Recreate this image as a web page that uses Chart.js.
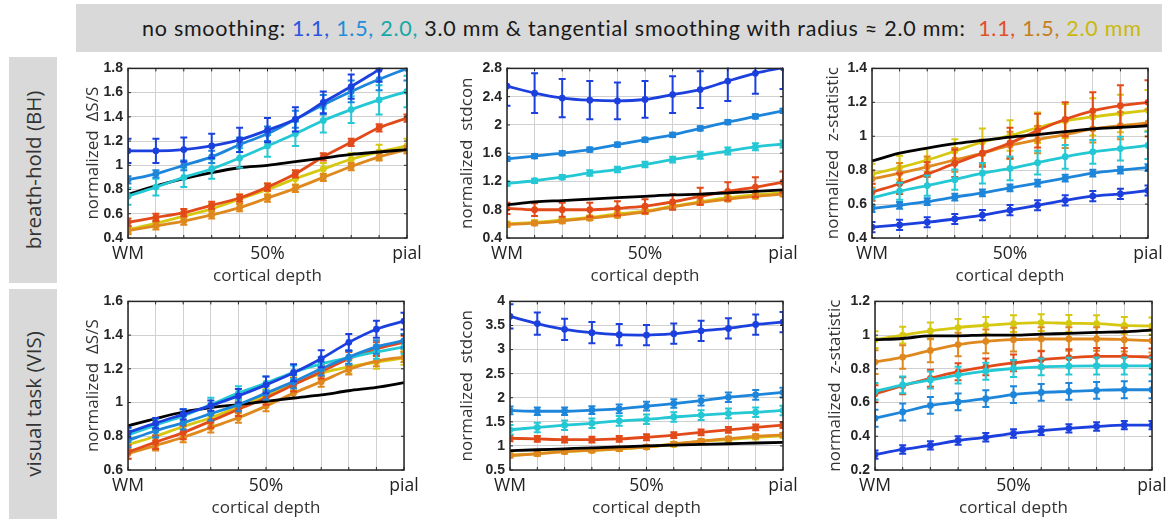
<!DOCTYPE html>
<html><head><meta charset="utf-8">
<script src="https://cdn.jsdelivr.net/npm/chart.js@4/dist/chart.umd.min.js"></script>
<style>
html,body{margin:0;padding:0;background:#fff}
body{width:1173px;height:519px;overflow:hidden;position:relative;font-family:'Open Sans',sans-serif}
#banner{position:absolute;left:76px;top:4px;width:1086px;height:48px;background:#d9d9d9}
#banner .t{position:absolute;left:66px;top:0;line-height:48px;font-family:Lato,sans-serif;font-size:21.5px;color:#1a1a1a;white-space:nowrap}
.rowlab{position:absolute;left:9px;width:48px;background:#d9d9d9}
.rowlab div{position:absolute;left:50%;top:50%;transform:translate(-50%,-50%) rotate(-90deg);white-space:nowrap;font-size:20.5px;color:#333;font-family:'Open Sans',sans-serif}
.panel{position:absolute}
</style>
</head><body>
<div id="banner"><span class="t" id="bt">no smoothing: <span style="color:#2a55e0">1.1,</span> <span style="color:#1f8ed8">1.5,</span> <span style="color:#17a7a8">2.0,</span> 3.0 mm &amp; tangential smoothing with radius ≈ 2.0 mm:&nbsp; <span style="color:#e2502a">1.1,</span> <span style="color:#c47f22">1.5,</span> <span style="color:#c9b80c">2.0 mm</span></span></div>
<div class="rowlab" style="top:57px;height:226px"><div>breath-hold (BH)</div></div>
<div class="rowlab" style="top:289px;height:230px"><div>visual task (VIS)</div></div>
<script>
// ---- categories / ticks ----
const DEPTH = [0,1,2,3,4,5,6,7,8,9,10];
const X_TICK_POS = [0,5,10];
const X_TICK_TEXT = ['WM','50%','pial'];
const X_TITLE = 'cortical depth';

// ---- BH, normalized ΔS/S ----
const BH_DSS_YTICKS = [0.4,0.6,0.8,1,1.2,1.4,1.6,1.8];
const BH_DSS_NS11 = [1.12,1.12,1.13,1.16,1.21,1.29,1.38,1.52,1.65,1.79,1.93];
const BH_DSS_NS11_ERR = [0.10,0.10,0.10,0.10,0.10,0.10,0.10,0.09,0.10,0.10,0.10];
const BH_DSS_NS15 = [0.88,0.93,1.00,1.07,1.17,1.26,1.38,1.50,1.61,1.71,1.80];
const BH_DSS_NS15_ERR = [0.03,0.03,0.04,0.05,0.06,0.06,0.07,0.08,0.09,0.09,0.10];
const BH_DSS_NS20 = [0.745,0.82,0.90,0.97,1.06,1.16,1.26,1.37,1.46,1.54,1.61];
const BH_DSS_NS20_ERR = [0.07,0.07,0.08,0.08,0.08,0.09,0.10,0.10,0.11,0.12,0.13];
const BH_DSS_NS30 = [0.76,0.83,0.89,0.94,0.98,1.00,1.03,1.06,1.09,1.11,1.13];
const BH_DSS_TS11 = [0.53,0.57,0.61,0.67,0.73,0.82,0.93,1.07,1.19,1.31,1.39];
const BH_DSS_TS11_ERR = [0.03,0.03,0.03,0.03,0.03,0.03,0.03,0.03,0.03,0.03,0.03];
const BH_DSS_TS15 = [0.46,0.50,0.54,0.59,0.65,0.73,0.81,0.90,0.99,1.07,1.13];
const BH_DSS_TS15_ERR = [0.03,0.03,0.03,0.03,0.03,0.03,0.03,0.03,0.03,0.03,0.03];
const BH_DSS_TS20 = [0.47,0.52,0.58,0.64,0.72,0.80,0.89,0.97,1.05,1.11,1.16];
const BH_DSS_TS20_ERR = [0.03,0.03,0.03,0.04,0.04,0.05,0.05,0.05,0.05,0.06,0.06];

// ---- BH, normalized stdcon ----
const BH_STD_YTICKS = [0.4,0.8,1.2,1.6,2,2.4,2.8];
const BH_STD_NS11 = [2.55,2.45,2.38,2.35,2.34,2.36,2.43,2.50,2.62,2.73,2.81];
const BH_STD_NS11_ERR = [0.28,0.28,0.27,0.27,0.26,0.26,0.26,0.26,0.28,0.29,0.30];
const BH_STD_NS15 = [1.52,1.56,1.60,1.65,1.72,1.79,1.86,1.95,2.04,2.12,2.20];
const BH_STD_NS15_ERR = [0.03,0.03,0.03,0.03,0.03,0.03,0.03,0.03,0.03,0.03,0.03];
const BH_STD_NS20 = [1.17,1.21,1.26,1.32,1.37,1.44,1.51,1.57,1.63,1.69,1.73];
const BH_STD_NS20_ERR = [0.03,0.03,0.03,0.04,0.04,0.04,0.04,0.05,0.05,0.05,0.05];
const BH_STD_NS30 = [0.87,0.91,0.93,0.95,0.97,0.99,1.01,1.02,1.04,1.06,1.08];
const BH_STD_TS11 = [0.82,0.80,0.80,0.80,0.82,0.85,0.91,0.99,1.06,1.12,1.19];
const BH_STD_TS11_ERR = [0.08,0.09,0.10,0.10,0.10,0.10,0.11,0.12,0.13,0.14,0.15];
const BH_STD_TS15 = [0.59,0.61,0.64,0.68,0.72,0.77,0.84,0.90,0.95,0.99,1.02];
const BH_STD_TS15_ERR = [0.03,0.03,0.03,0.03,0.03,0.03,0.03,0.03,0.03,0.03,0.03];
const BH_STD_TS20 = [0.60,0.62,0.655,0.69,0.74,0.78,0.85,0.91,0.97,1.01,1.04];
const BH_STD_TS20_ERR = [0.03,0.03,0.03,0.03,0.03,0.03,0.03,0.03,0.03,0.03,0.03];

// ---- BH, normalized z-statistic ----
const BH_Z_YTICKS = [0.4,0.6,0.8,1,1.2,1.4];
const BH_Z_NS11 = [0.464,0.477,0.493,0.512,0.535,0.564,0.593,0.622,0.647,0.66,0.68];
const BH_Z_NS11_ERR = [0.03,0.03,0.03,0.03,0.03,0.03,0.03,0.03,0.03,0.03,0.03];
const BH_Z_NS15 = [0.574,0.593,0.614,0.641,0.666,0.695,0.724,0.753,0.782,0.80,0.815];
const BH_Z_NS15_ERR = [0.02,0.02,0.02,0.02,0.02,0.02,0.02,0.02,0.02,0.02,0.02];
const BH_Z_NS20 = [0.637,0.676,0.709,0.744,0.782,0.81,0.844,0.879,0.908,0.927,0.946];
const BH_Z_NS20_ERR = [0.05,0.05,0.06,0.06,0.06,0.07,0.07,0.07,0.07,0.07,0.08];
const BH_Z_NS30 = [0.854,0.90,0.93,0.956,0.975,0.995,1.01,1.027,1.043,1.052,1.062];
const BH_Z_TS11 = [0.67,0.72,0.776,0.84,0.90,0.96,1.033,1.10,1.15,1.18,1.20];
const BH_Z_TS11_ERR = [0.05,0.06,0.07,0.08,0.08,0.09,0.10,0.10,0.11,0.12,0.13];
const BH_Z_TS15 = [0.748,0.782,0.82,0.86,0.90,0.946,0.98,1.01,1.043,1.062,1.078];
const BH_Z_TS15_ERR = [0.05,0.06,0.06,0.07,0.07,0.08,0.08,0.08,0.08,0.08,0.08];
const BH_Z_TS20 = [0.778,0.815,0.86,0.912,0.966,1.004,1.05,1.09,1.114,1.134,1.153];
const BH_Z_TS20_ERR = [0.06,0.07,0.07,0.07,0.08,0.09,0.09,0.10,0.11,0.11,0.12];

// ---- VIS, normalized ΔS/S ----
const VIS_DSS_YTICKS = [0.6,0.8,1,1.2,1.4,1.6];
const VIS_DSS_NS11 = [0.822,0.878,0.93,0.982,1.04,1.105,1.177,1.26,1.357,1.435,1.483];
const VIS_DSS_NS11_ERR = [0.03,0.03,0.03,0.03,0.04,0.05,0.05,0.05,0.05,0.05,0.05];
const VIS_DSS_NS15 = [0.775,0.833,0.88,0.934,0.988,1.056,1.124,1.20,1.27,1.33,1.367];
const VIS_DSS_NS15_ERR = [0.04,0.04,0.04,0.04,0.04,0.04,0.04,0.04,0.04,0.04,0.04];
const VIS_DSS_NS20 = [0.808,0.866,0.92,0.988,1.056,1.115,1.18,1.23,1.266,1.30,1.33];
const VIS_DSS_NS20_ERR = [0.04,0.04,0.04,0.04,0.04,0.04,0.04,0.04,0.04,0.04,0.04];
const VIS_DSS_NS30 = [0.862,0.905,0.944,0.97,0.988,1.007,1.027,1.045,1.07,1.09,1.118];
const VIS_DSS_TS11 = [0.707,0.765,0.822,0.89,0.96,1.027,1.105,1.183,1.26,1.318,1.357];
const VIS_DSS_TS11_ERR = [0.04,0.04,0.04,0.04,0.04,0.04,0.04,0.04,0.04,0.04,0.04];
const VIS_DSS_TS15 = [0.697,0.745,0.794,0.852,0.91,0.979,1.056,1.124,1.196,1.246,1.27];
const VIS_DSS_TS15_ERR = [0.03,0.03,0.03,0.03,0.03,0.03,0.03,0.03,0.03,0.03,0.03];
const VIS_DSS_TS20 = [0.75,0.80,0.858,0.91,0.975,1.04,1.11,1.173,1.212,1.24,1.265];
const VIS_DSS_TS20_ERR = [0.04,0.04,0.04,0.04,0.04,0.04,0.04,0.04,0.04,0.04,0.04];

// ---- VIS, normalized stdcon ----
const VIS_STD_YTICKS = [0.5,1,1.5,2,2.5,3,3.5,4];
const VIS_STD_NS11 = [3.69,3.54,3.42,3.35,3.31,3.30,3.33,3.39,3.44,3.52,3.57];
const VIS_STD_NS11_ERR = [0.25,0.23,0.22,0.22,0.22,0.21,0.21,0.21,0.21,0.21,0.21];
const VIS_STD_NS15 = [1.736,1.72,1.72,1.743,1.77,1.825,1.88,1.94,2.01,2.06,2.11];
const VIS_STD_NS15_ERR = [0.08,0.08,0.08,0.08,0.09,0.09,0.09,0.10,0.10,0.10,0.10];
const VIS_STD_NS20 = [1.335,1.383,1.43,1.47,1.52,1.553,1.60,1.64,1.675,1.70,1.736];
const VIS_STD_NS20_ERR = [0.10,0.10,0.10,0.10,0.10,0.10,0.10,0.10,0.10,0.10,0.10];
const VIS_STD_NS30 = [0.90,0.92,0.94,0.96,0.98,1.00,1.015,1.03,1.045,1.06,1.075];
const VIS_STD_TS11 = [1.158,1.145,1.13,1.13,1.145,1.18,1.226,1.28,1.335,1.383,1.43];
const VIS_STD_TS11_ERR = [0.06,0.06,0.06,0.06,0.06,0.06,0.06,0.06,0.06,0.06,0.06];
const VIS_STD_TS15 = [0.80,0.835,0.88,0.91,0.94,0.98,1.04,1.10,1.15,1.20,1.23];
const VIS_STD_TS15_ERR = [0.04,0.04,0.04,0.04,0.04,0.04,0.04,0.04,0.04,0.04,0.04];
const VIS_STD_TS20 = [0.805,0.84,0.886,0.907,0.94,0.975,1.03,1.10,1.13,1.18,1.21];
const VIS_STD_TS20_ERR = [0.04,0.04,0.04,0.04,0.04,0.04,0.04,0.04,0.04,0.04,0.04];

// ---- VIS, normalized z-statistic ----
const VIS_Z_YTICKS = [0.2,0.4,0.6,0.8,1,1.2];
const VIS_Z_NS11 = [0.291,0.322,0.346,0.375,0.394,0.417,0.433,0.447,0.458,0.466,0.466];
const VIS_Z_NS11_ERR = [0.025,0.025,0.025,0.025,0.025,0.025,0.025,0.025,0.025,0.025,0.025];
const VIS_Z_NS15 = [0.507,0.544,0.583,0.604,0.623,0.647,0.66,0.666,0.672,0.676,0.676];
const VIS_Z_NS15_ERR = [0.05,0.05,0.05,0.05,0.05,0.05,0.05,0.05,0.05,0.05,0.05];
const VIS_Z_NS20 = [0.666,0.705,0.734,0.763,0.786,0.802,0.812,0.816,0.817,0.817,0.817];
const VIS_Z_NS20_ERR = [0.05,0.05,0.05,0.05,0.05,0.05,0.05,0.05,0.05,0.05,0.05];
const VIS_Z_NS30 = [0.973,0.98,0.996,0.996,1.0,1.0,1.006,1.01,1.016,1.02,1.03];
const VIS_Z_TS11 = [0.652,0.70,0.744,0.783,0.812,0.835,0.854,0.866,0.874,0.874,0.87];
const VIS_Z_TS11_ERR = [0.05,0.05,0.05,0.05,0.05,0.05,0.05,0.05,0.05,0.05,0.05];
const VIS_Z_TS15 = [0.84,0.87,0.909,0.944,0.963,0.973,0.977,0.977,0.977,0.973,0.967];
const VIS_Z_TS15_ERR = [0.07,0.07,0.07,0.07,0.07,0.07,0.07,0.07,0.07,0.07,0.07];
const VIS_Z_TS20 = [0.973,1.0,1.025,1.045,1.058,1.068,1.074,1.07,1.068,1.058,1.054];
const VIS_Z_TS20_ERR = [0.05,0.05,0.05,0.05,0.05,0.05,0.05,0.05,0.05,0.05,0.05];

// ---- styles ----
const C_NS11 = 'rgb(28,64,222)';
const C_NS15 = 'rgb(30,134,218)';
const C_NS20 = 'rgb(36,200,212)';
const C_NS30 = 'rgb(0,0,0)';
const C_TS11 = 'rgb(226,74,26)';
const C_TS15 = 'rgb(222,136,30)';
const C_TS20 = 'rgb(214,200,16)';

// fit banner text to the reference width
(function(){
  const el = document.getElementById('bt');
  const target = 1000;
  const w = el.getBoundingClientRect().width;
  const n = el.textContent.length;
  el.style.letterSpacing = ((target - w) / n).toFixed(3) + 'px';
})();

function seriesSet(ns11,e11,ns15,e15,ns20,e20,ns30,ts11,t11,ts15,t15,ts20,t20){
  return [
    {v:ns11,e:e11,c:C_NS11},{v:ns15,e:e15,c:C_NS15},{v:ns20,e:e20,c:C_NS20},
    {v:ns30,e:null,c:C_NS30},
    {v:ts11,e:t11,c:C_TS11},{v:ts15,e:t15,c:C_TS15},{v:ts20,e:t20,c:C_TS20}
  ];
}

const framePlugin = {
  id:'frame',
  afterDatasetDraw(chart,args){
    const ds = chart.data.datasets[args.index];
    if(!ds.err) return;
    const {ctx, chartArea:a} = chart;
    const xs = chart.scales.x, ys = chart.scales.y;
    ctx.save();
    ctx.beginPath(); ctx.rect(a.left, a.top-1, a.right-a.left, a.bottom-a.top+2); ctx.clip();
    ctx.strokeStyle = ds.borderColor; ctx.lineWidth = 2; ctx.lineCap='butt';
    ds.data.forEach((p,i)=>{
      const px = xs.getPixelForValue(p.x);
      const y1 = ys.getPixelForValue(p.y-ds.err[i]);
      const y2 = ys.getPixelForValue(p.y+ds.err[i]);
      ctx.beginPath();
      ctx.moveTo(px,y1); ctx.lineTo(px,y2);
      ctx.moveTo(px-3.5,y1); ctx.lineTo(px+3.5,y1);
      ctx.moveTo(px-3.5,y2); ctx.lineTo(px+3.5,y2);
      ctx.stroke();
    });
    ctx.restore();
  },
  afterDraw(chart){
    const {ctx, chartArea:a} = chart;
    const xs = chart.scales.x, ys = chart.scales.y;
    ctx.save();
    ctx.strokeStyle = '#262626'; ctx.lineWidth = 1.5;
    ctx.strokeRect(a.left, a.top, a.right-a.left, a.bottom-a.top);
    ctx.lineWidth = 1;
    ctx.beginPath();
    xs.ticks.forEach(t=>{ const px = xs.getPixelForValue(t.value);
      ctx.moveTo(px,a.bottom); ctx.lineTo(px,a.bottom-3);
      ctx.moveTo(px,a.top); ctx.lineTo(px,a.top+3); });
    ys.ticks.forEach(t=>{ const py = ys.getPixelForValue(t.value);
      ctx.moveTo(a.left,py); ctx.lineTo(a.left+3,py);
      ctx.moveTo(a.right,py); ctx.lineTo(a.right-3,py); });
    ctx.stroke();
    ctx.restore();
  }
};

function makePanel(rect, yTicks, series, yTitle){
  const yW = rect.off + 14;
  const left = rect.l - yW, top = rect.t - 10;
  const width = rect.r - left + 30, height = rect.b + 51 - top;
  const div = document.createElement('div');
  div.className = 'panel';
  div.style.left = left+'px'; div.style.top = top+'px';
  div.style.width = width+'px'; div.style.height = height+'px';
  const cv = document.createElement('canvas');
  cv.width = width; cv.height = height;
  cv.style.width = width+'px'; cv.style.height = height+'px';
  div.appendChild(cv); document.body.appendChild(div);
  new Chart(cv, {
    type:'line',
    data:{ datasets: series.map(s=>({
      data: DEPTH.map((x,i)=>({x:x, y:s.v[i]})),
      err: s.e,
      borderColor: s.c, backgroundColor: s.c,
      pointRadius: s.e ? 3.4 : 0, pointBorderWidth:0,
      borderWidth: 2.8, cubicInterpolationMode:'monotone'
    })) },
    options:{
      responsive:false, animation:false, devicePixelRatio:1,
      layout:{padding:{top:10,right:30,left:0,bottom:0}},
      plugins:{legend:{display:false}, tooltip:{enabled:false}},
      scales:{
        x:{ type:'linear', min:0, max:10,
          afterBuildTicks: sc => { sc.ticks = DEPTH.map(v=>({value:v})); },
          afterFit: sc => { sc.height = 51; },
          grid:{color:'#d0d0d0', lineWidth:1, drawTicks:false},
          border:{display:false},
          ticks:{ autoSkip:false, maxRotation:0, padding:6, color:'#222',
            font:{family:"'Open Sans'", size:17.5},
            callback: v => { const k = X_TICK_POS.indexOf(v); return k<0 ? '' : X_TICK_TEXT[k]; } },
          title:{display:true, text:X_TITLE, color:'#333', font:{family:"'Open Sans'", size:17}, padding:{top:0,bottom:3}}
        },
        y:{ type:'linear', min:yTicks[0], max:yTicks[yTicks.length-1],
          afterBuildTicks: sc => { sc.ticks = yTicks.map(v=>({value:v})); },
          afterFit: sc => { sc.width = yW; },
          grid:{color:'#d0d0d0', lineWidth:1, drawTicks:false},
          border:{display:false},
          ticks:{ padding:5, color:'#262626', font:{family:"'Liberation Sans'", size:14, weight:'bold'},
            callback: v => String(v) },
          title:{display:true, text:yTitle, color:'#333', font:{family:"'Open Sans'", size:17}, padding:{top:4,bottom:0}}
        }
      }
    },
    plugins:[framePlugin]
  });
}

makePanel({l:128,t:65,r:407,b:238,off:35}, BH_DSS_YTICKS,
  seriesSet(BH_DSS_NS11,BH_DSS_NS11_ERR,BH_DSS_NS15,BH_DSS_NS15_ERR,BH_DSS_NS20,BH_DSS_NS20_ERR,BH_DSS_NS30,
            BH_DSS_TS11,BH_DSS_TS11_ERR,BH_DSS_TS15,BH_DSS_TS15_ERR,BH_DSS_TS20,BH_DSS_TS20_ERR), 'normalized  ΔS/S');
makePanel({l:507,t:65,r:783,b:238,off:40}, BH_STD_YTICKS,
  seriesSet(BH_STD_NS11,BH_STD_NS11_ERR,BH_STD_NS15,BH_STD_NS15_ERR,BH_STD_NS20,BH_STD_NS20_ERR,BH_STD_NS30,
            BH_STD_TS11,BH_STD_TS11_ERR,BH_STD_TS15,BH_STD_TS15_ERR,BH_STD_TS20,BH_STD_TS20_ERR), 'normalized  stdcon');
makePanel({l:872,t:65,r:1148,b:238,off:39}, BH_Z_YTICKS,
  seriesSet(BH_Z_NS11,BH_Z_NS11_ERR,BH_Z_NS15,BH_Z_NS15_ERR,BH_Z_NS20,BH_Z_NS20_ERR,BH_Z_NS30,
            BH_Z_TS11,BH_Z_TS11_ERR,BH_Z_TS15,BH_Z_TS15_ERR,BH_Z_TS20,BH_Z_TS20_ERR), 'normalized  z-statistic');
makePanel({l:128,t:298,r:404,b:470,off:35}, VIS_DSS_YTICKS,
  seriesSet(VIS_DSS_NS11,VIS_DSS_NS11_ERR,VIS_DSS_NS15,VIS_DSS_NS15_ERR,VIS_DSS_NS20,VIS_DSS_NS20_ERR,VIS_DSS_NS30,
            VIS_DSS_TS11,VIS_DSS_TS11_ERR,VIS_DSS_TS15,VIS_DSS_TS15_ERR,VIS_DSS_TS20,VIS_DSS_TS20_ERR), 'normalized  ΔS/S');
makePanel({l:510,t:298,r:783,b:470,off:43}, VIS_STD_YTICKS,
  seriesSet(VIS_STD_NS11,VIS_STD_NS11_ERR,VIS_STD_NS15,VIS_STD_NS15_ERR,VIS_STD_NS20,VIS_STD_NS20_ERR,VIS_STD_NS30,
            VIS_STD_TS11,VIS_STD_TS11_ERR,VIS_STD_TS15,VIS_STD_TS15_ERR,VIS_STD_TS20,VIS_STD_TS20_ERR), 'normalized  stdcon');
makePanel({l:875,t:298,r:1152,b:470,off:40}, VIS_Z_YTICKS,
  seriesSet(VIS_Z_NS11,VIS_Z_NS11_ERR,VIS_Z_NS15,VIS_Z_NS15_ERR,VIS_Z_NS20,VIS_Z_NS20_ERR,VIS_Z_NS30,
            VIS_Z_TS11,VIS_Z_TS11_ERR,VIS_Z_TS15,VIS_Z_TS15_ERR,VIS_Z_TS20,VIS_Z_TS20_ERR), 'normalized  z-statistic');
</script>
</body></html>
